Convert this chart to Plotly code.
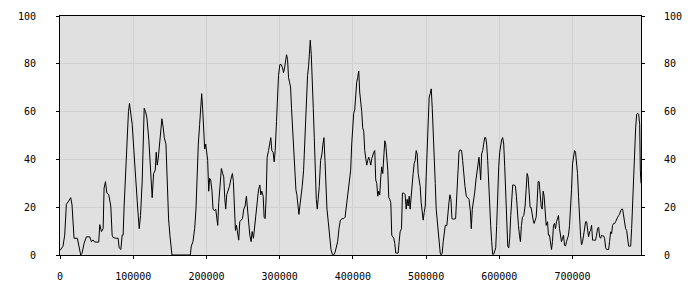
import plotly.graph_objects as go

pos = [
    0, 4100, 6400, 8700, 11900, 14600, 16400, 17800, 19200, 23700, 25600, 28300, 30100, 32900, 36000, 40600,
    42900, 45200, 47500, 52900, 54300, 56600, 58900, 60200, 62100, 63900, 66600, 69400, 71200, 72600, 77100,
    79400, 80800, 83100, 84900, 86200, 87600, 89400, 91700, 93500, 94900, 96700, 98600, 100900, 103600, 105900,
    108200, 110000, 112300, 115000, 116800, 118700, 121400, 124100, 125900, 127800,
    130100, 131400, 132800, 134200, 135500, 137400, 139200, 141000, 142400, 144700, 146500, 148300, 150100,
    152000, 152900, 178000, 179300, 181600, 183900, 185700, 187100, 188900, 190700, 192100, 193500, 194800,
    196200, 197600, 199000, 200300, 201700, 203100, 204400, 205800, 207600, 209000, 210800, 212700, 214000,
    215400, 216800, 218600, 220400, 222200, 223600, 225000, 226300, 227700, 229500, 231400, 234100, 235500,
    236800, 238700, 239600, 241000, 242400, 244100, 245500, 247300, 249200, 251000, 252800, 254600, 256000,
    257400, 259200, 261000, 262400,
    264200, 265600, 267400, 269200, 271100, 272900, 274300, 275600, 277500, 278800, 280200, 281600, 282900,
    284800, 286600, 287900, 289300, 291100, 292500, 293900, 295700, 297100, 298400, 300300, 302100, 303900,
    305300, 306700, 308000, 309400, 310800, 312100, 313500, 314900, 316200, 317600, 319400, 320800, 322200,
    323500, 324900, 326300, 327600, 329500, 330800, 332700, 334000, 335400, 336800, 338100, 339500, 340900,
    341800, 343200, 344500, 345900, 347300, 348600, 350000, 351400, 352700, 354100, 355900, 357800, 359100,
    360500, 361900, 363200, 364600, 366400, 368300, 370100, 371900, 373700, 375600, 377400, 379200, 381000,
    382900, 385100, 387400, 389300, 391100, 392900, 394700,
    395600, 397000, 398400, 399700, 401100, 402500, 403900, 405200, 406600, 408000, 409300, 410700, 412100,
    413400, 414800, 416200, 417500, 418900, 420300, 421700, 423000, 424400, 425800, 427100, 428500, 429900,
    431200, 432600, 434000, 435300, 436700, 438100, 439400, 440800, 442200, 443600, 444900, 446300, 447700,
    449000, 450400, 451800, 453100, 454500, 455900, 457200, 458600, 460000, 461800, 463200, 464500, 466400,
    467700, 469600, 471400, 472800, 474100, 475500, 476900, 478200, 479600, 481000, 482300, 483700, 485100,
    486500, 487800, 489200, 490600, 491900, 493300, 494700, 496000, 497400, 498800, 500100, 501500, 502900,
    504200, 505600, 507000, 508400, 509700, 511100, 512500, 513800, 515200, 516600, 517900, 519300, 520700,
    522000, 523400, 524800, 526200,
    528400, 529800, 531200, 532500, 533900, 535300, 537600, 540300, 541700, 543500, 544900, 546200, 548500,
    549900, 551300, 553100, 554900, 556700, 558600, 560400, 561700, 563100, 564500, 566300, 568100, 569500,
    570900, 572200, 573600, 574500, 575900, 577300, 578600, 580000, 581400, 582700, 584100, 585500, 586800,
    588200, 589600, 590900, 592300, 593700, 595100, 596400, 597800, 599200, 600500, 601900, 603300, 604600,
    606000, 607400, 608700, 610100, 611500, 612900, 614200, 615600, 617000, 618300, 620100, 622000, 623300,
    624700, 626100, 627500, 628800, 630200, 631600, 633400, 635200, 636600, 638000, 639300, 640700, 642100,
    643400, 644800, 646200, 647500, 648900, 650300, 651600, 653000, 654400, 655700, 657100, 658500, 659900,
    661200,
    664000, 665800, 667100, 668500, 669900, 671300, 672600, 674000, 675400, 676700, 678100, 679500, 680800,
    682200, 683600, 684900, 686300, 687700, 689000, 690400, 691800, 693200, 694500, 695900, 697300, 698600,
    700000, 701400, 702700, 704100, 705500, 706800, 708200, 709600, 710900, 712300, 713700, 715100, 716400,
    717800, 719200, 720500, 721900, 723300, 724600, 726000, 727400, 728700, 730100, 731500, 732800, 734200,
    735600, 737000, 738300, 739700, 741100, 742400, 743800, 745200, 746500, 747900, 749300, 750600, 752000,
    753400, 754700, 756100, 757500, 758800, 760200, 761600, 763000, 764300, 765700, 767100, 768400, 769800,
    771200, 772500, 773900, 775300, 776600, 778000, 779400, 780700, 782100, 783500, 784900, 786200, 787600,
    789000, 790300, 791700, 792600, 793500,
]

val = [
    1.9, 3.7, 8.3, 21.2, 22.6, 24, 21, 13.9, 7, 7, 3.7, 0, 0.7, 4.9, 7.6, 7.6,
    5.6, 6.3, 5.4, 5.4, 12.7, 9.8, 11, 28, 30.7, 26, 25.2, 20.5, 8.3, 7.3, 7,
    7, 3, 2.3, 8.3, 8.3, 20.5, 34.1, 45, 60, 63.4, 58.6, 54.6, 43.7, 28.7, 20.5,
    11, 16.5, 31.4, 61.4, 60, 57.3, 47.8, 31.4, 24, 34,
    35.5, 43, 37.6, 40.5, 45, 53.2, 57, 53.2, 49.1, 46.4, 30, 15.1, 8.3,
    1.5, 0, 0, 3.7, 5.6, 11, 19.2, 35.5, 46.4, 54.6, 61.4, 67.5, 61.4,
    49.1, 44.3, 46.4, 43.7, 39.6, 26.7, 32.1, 31.4, 26.7, 19.2, 18.5, 19.2, 15.8,
    12.4, 21.9, 28.7, 36.2, 34.1, 32.7, 24, 19.2, 25.2, 26.7, 28.7, 32.7, 34.1,
    30.7, 19.2, 10.3, 12.4, 8.3, 6.2, 13.9, 14.6, 15.2, 19.2, 20.5, 24.6, 19.2,
    13.9, 8.3, 5.6, 9.8,
    7, 11, 17.8, 23.3, 27.3, 29.3, 25.2, 26.7, 24.6, 15.8, 15.2, 24.6, 40.9,
    43.7, 47.8, 49.1, 43.7, 43, 39, 43.7, 55.9, 64, 75, 79.7, 79.7, 78.3,
    76.3, 78.3, 80.4, 83.8, 81.8, 74.3, 72.3, 70.3, 61.4, 53.2, 42.3, 34.1, 27.3,
    25.2, 21.9, 17, 20.5, 24.6, 28.7, 35.5, 46.4, 58.6, 66.8, 75, 79, 84.5,
    89.9, 83.8, 75.6, 61.4, 49.1, 30.7, 23.3, 19.2, 23.3, 28.7, 39.6, 42.3, 46.4,
    49.1, 39.6, 27.3, 19.2, 13.9, 7, 2.3, 0.3, 0, 1, 3, 5.6, 11,
    14.6, 15.2, 15.2, 15.8, 20.5, 24.6, 30,
    32.8, 35.5, 46.4, 55.9, 59.3, 60.7, 68.8, 72.3, 74.3, 77, 68.2, 64.8, 60,
    53.2, 51.8, 43.7, 40.3, 37.6, 39.6, 40.9, 39.6, 37.6, 40.3, 42.3, 43, 43.7,
    31.4, 30, 24.6, 26.7, 25.2, 32.7, 36.9, 34.1, 43.7, 47.8, 46.4, 39.6, 35.5,
    24, 23.3, 21.9, 8.3, 7.6, 7, 4.9, 0.8, 0.8, 0.8, 5.6, 9.7, 11,
    25.9, 25.9, 25.2, 19.2, 23.3, 20.5, 24.6, 19.2, 25.9, 30, 34.1, 38.2, 39.6,
    43.7, 42.3, 34.1, 31.4, 28.7, 21.9, 17.8, 14.6, 17.8, 20.5, 32.7, 46.4, 55.9,
    66.1, 67.5, 69.5, 61.4, 53.2, 43.7, 30, 19.2, 15.2, 9.8, 5.6, 0.8, 0,
    0.8, 5.6, 9.8, 12.4,
    12.4, 19.2, 21.9, 25.2, 23.3, 15.2, 15, 15.2, 25.9, 35.5, 43, 44, 43.7,
    39.6, 34.1, 28.7, 24.6, 24, 23.3, 18.5, 11, 19.2, 21.9, 25.9, 31.4, 34.1,
    36.9, 40.9, 35.5, 31.4, 42.3, 43.7, 46.4, 49.1, 49.1, 46.4, 39.6, 27.3, 19.2,
    12.4, 5.6, 0.3, 0.3, 1.6, 3, 12.4, 27.3, 36.9, 43, 46.4, 48.4, 49.1,
    46.4, 36.9, 23.3, 13.9, 3.7, 3, 7, 16.5, 21.9, 29.3, 29.3, 28.9, 24.6,
    16.5, 12.4, 8.3, 5.6, 12.4, 15.8, 16.5, 20.5, 27.3, 34.1, 32.7, 23.3, 19.9,
    19.9, 16.5, 14.6, 13.2, 15.2, 15.8, 21.9, 30.7, 30.7, 24.6, 20.5, 19.2, 26.7,
    24.6,
    12.4, 13.9, 8.3, 8.3, 3.7, 2.3, 5.6, 12.4, 13.2, 11, 13.9, 15.2, 16.5,
    11, 8.3, 5.6, 7, 8.3, 4.2, 3.7, 5.6, 7, 8.3, 12.4, 19.2, 27.3,
    38.2, 40.9, 43.7, 43, 39.6, 34.1, 24.6, 13.9, 8.3, 4.2, 5.6, 8.3, 11,
    13.9, 13.9, 11, 7.6, 9.7, 10.3, 12.4, 6.2, 6.2, 6.2, 6.2, 8.3, 11,
    11.7, 7.6, 7, 8.3, 8, 8, 7, 3, 2.3, 2.3, 2.3, 5.6, 9.7,
    9, 12.4, 13.2, 13.2, 13.9, 15.2, 15.8, 16.5, 17.1, 18.5, 19.2, 19.2, 16.5,
    13.2, 11, 10.3, 7, 3.7, 3.7, 3.7, 11, 23.3, 35.5, 46.4, 53.2, 58.9,
    59.3, 58.9, 54.6, 35.5, 30,
]

x_ticks = [0, 100000, 200000, 300000, 400000, 500000, 600000, 700000]
y_ticks = [0, 20, 40, 60, 80, 100]

FONT = dict(family="DejaVu Sans Mono", size=10, color="#000000")

fig = go.Figure()
fig.add_trace(go.Scatter(x=pos, y=val, mode="lines",
                         line=dict(color="#000000", width=1), showlegend=False))
fig.add_trace(go.Scatter(x=pos, y=val, mode="lines", yaxis="y2",
                         line=dict(color="rgba(0,0,0,0)", width=0), showlegend=False,
                         hoverinfo="skip"))

fig.update_layout(
    width=700, height=300,
    margin=dict(l=60, r=59, t=10, b=45),
    paper_bgcolor="#ffffff",
    plot_bgcolor="#e0e0e0",
    font=FONT,
    xaxis=dict(
        range=[0, pos[-1]], tickvals=x_ticks, ticktext=[str(v) for v in x_ticks],
        showgrid=True, gridcolor="#d0d0d0", gridwidth=1, zeroline=False,
        showline=True, linecolor="#000000", linewidth=1, mirror=True,
        ticks="outside", ticklen=3, tickcolor="#000000", ticklabelstandoff=9,
        tickfont=FONT,
    ),
    yaxis=dict(
        range=[0, 100], tickvals=y_ticks, ticktext=[str(v) for v in y_ticks],
        showgrid=True, gridcolor="#d0d0d0", gridwidth=1, zeroline=False,
        showline=True, linecolor="#000000", linewidth=1, mirror=True,
        ticks="outside", ticklen=3, tickcolor="#000000", ticklabelstandoff=18,
        tickfont=FONT,
    ),
    yaxis2=dict(
        range=[0, 100], tickvals=y_ticks, ticktext=[str(v) for v in y_ticks],
        overlaying="y", side="right", showgrid=False, zeroline=False,
        showline=False, ticks="outside", ticklen=3, tickcolor="#000000",
        ticklabelstandoff=17, tickfont=FONT,
    ),
)

fig.write_html("out.html")
